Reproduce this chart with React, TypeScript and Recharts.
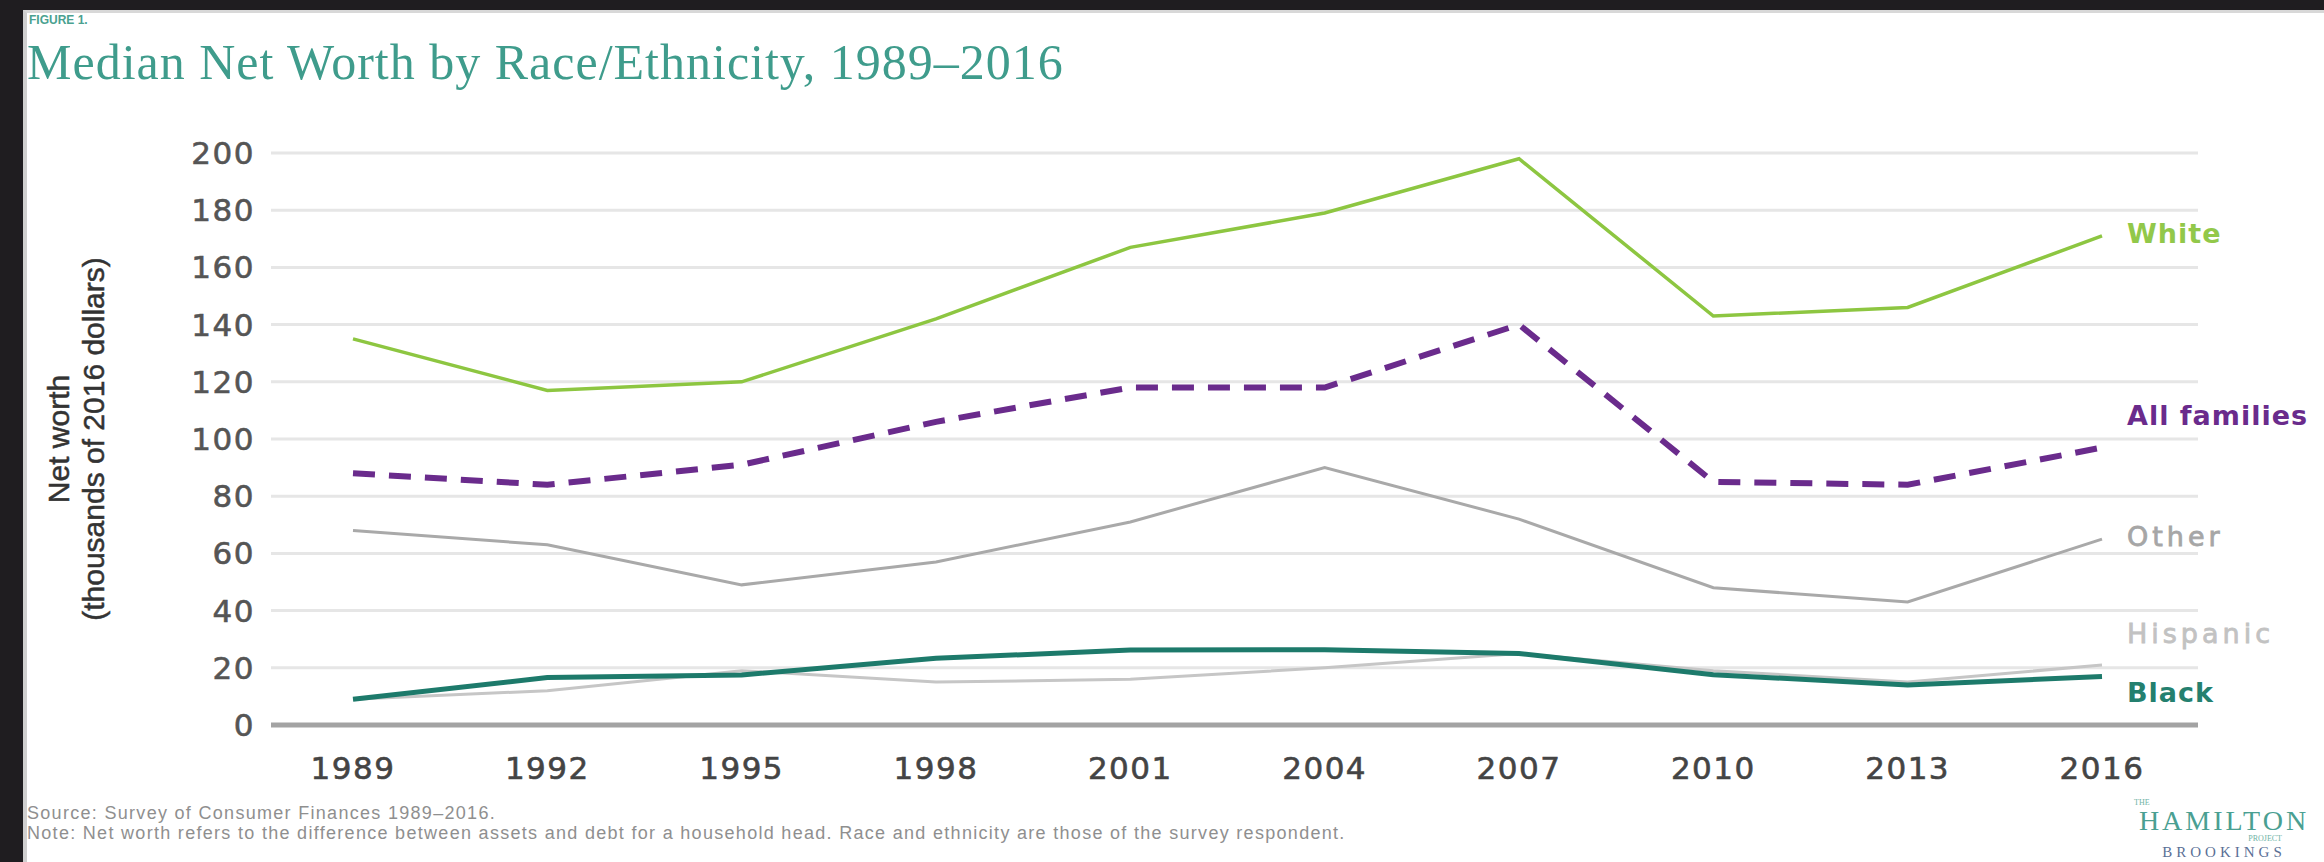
import React from "react"
import { LineChart, Line, XAxis, YAxis, CartesianGrid, ReferenceLine, Label } from "recharts"

// survey years
const years = ["1989", "1992", "1995", "1998", "2001", "2004", "2007", "2010", "2013", "2016"]

// median net worth, thousands of 2016 dollars
const white = [135, 117, 120, 142, 167, 179, 198, 143, 146, 171]
const allFamilies = [88, 84, 91, 106, 118, 118, 140, 85, 84, 97]
const other = [68, 63, 49, 57, 71, 90, 72, 48, 43, 65]
const hispanic = [9, 12, 19, 15, 16, 20, 25, 19, 15, 21]
const black = [9, 16.6, 17.5, 23.3, 26.2, 26.3, 25, 17.6, 14, 17]

const yTicks = [0, 20, 40, 60, 80, 100, 120, 140, 160, 180, 200]

const data = years.map((year, i) => ({
  year,
  white: white[i],
  allFamilies: allFamilies[i],
  other: other[i],
  hispanic: hispanic[i],
  black: black[i],
}))

const last = years.length - 1
const sans = "'DejaVu Sans', Verdana, sans-serif"

// name label drawn next to the final point of a series
function endLabel(text: string, color: string, dy: number, bold: boolean) {
  return (props: any) => {
    if (props.index !== last) return null
    return (
      <text
        x={props.x + 25}
        y={props.y + dy}
        fill={color}
        fontFamily={sans}
        fontSize={27}
        fontWeight={bold ? "bold" : "normal"}
        letterSpacing={bold ? 1 : 4}
        stroke={bold ? "none" : color}
        strokeWidth={bold ? 0 : 0.8}
        dominantBaseline="central"
      >
        {text}
      </text>
    )
  }
}

function YTitle(props: any) {
  const vb = props.viewBox
  const cy = vb.y + vb.height / 2
  return (
    <g
      fontFamily="'Liberation Sans Narrow', 'Liberation Sans', sans-serif"
      fontSize={30}
      fill="#333"
      stroke="#333"
      strokeWidth={0.5}
      textAnchor="middle"
    >
      <text x={58} y={cy} transform={`rotate(-90 58 ${cy})`} dominantBaseline="central">
        Net worth
      </text>
      <text x={93} y={cy} transform={`rotate(-90 93 ${cy})`} dominantBaseline="central">
        (thousands of 2016 dollars)
      </text>
    </g>
  )
}

export default function App() {
  return (
    <div style={{ position: "absolute", left: 0, top: 0, width: 2324, height: 862, background: "#1f1d20", overflow: "hidden" }}>
      <div
        style={{
          position: "absolute",
          left: 23,
          top: 10,
          width: 2301,
          height: 852,
          background: "#fff",
          borderLeft: "4px solid #cfcfcf",
          borderTop: "3px solid #d8d8d8",
          boxSizing: "border-box",
        }}
      />
      <div
        style={{
          position: "absolute",
          left: 29,
          top: 13,
          fontFamily: "'Liberation Sans Narrow', sans-serif",
          fontWeight: "bold",
          fontSize: 12,
          color: "#4aa190",
        }}
      >
        FIGURE 1.
      </div>
      <div
        style={{
          position: "absolute",
          left: 27,
          top: 33,
          fontFamily: "'Liberation Serif', serif",
          fontSize: 50,
          letterSpacing: 1,
          color: "#3f9c8c",
          whiteSpace: "nowrap",
        }}
      >
        Median Net Worth by Race/Ethnicity, 1989–2016
      </div>

      <LineChart
        width={2324}
        height={862}
        data={data}
        margin={{ top: 153, right: 126, bottom: 0, left: 0 }}
        style={{ position: "absolute", left: 0, top: 0 }}
      >
        <CartesianGrid horizontal vertical={false} stroke="#e6e6e6" strokeWidth={3} />
        <XAxis
          dataKey="year"
          height={137}
          padding={{ left: 82, right: 96 }}
          axisLine={false}
          tickLine={false}
          tickSize={0}
          tickMargin={32}
          tick={{ fontFamily: sans, fontSize: 31, fill: "#444", letterSpacing: 1.5, stroke: "#444", strokeWidth: 0.6 }}
          interval={0}
        />
        <YAxis
          width={271}
          domain={[0, 200]}
          ticks={yTicks}
          axisLine={false}
          tickLine={false}
          tickSize={0}
          tickMargin={16}
          tick={{ fontFamily: sans, fontSize: 31, fill: "#555", letterSpacing: 1.5, stroke: "#555", strokeWidth: 0.6 }}
        >
          <Label content={<YTitle />} />
        </YAxis>
        <ReferenceLine y={0} stroke="#a3a3a3" strokeWidth={5} />
        <Line
          dataKey="other"
          stroke="#a9a9a9"
          strokeWidth={3}
          dot={false}
          isAnimationActive={false}
          label={endLabel("Other", "#a6a6a6", -3, false)}
        />
        <Line
          dataKey="hispanic"
          stroke="#c6c6c6"
          strokeWidth={3}
          dot={false}
          isAnimationActive={false}
          label={endLabel("Hispanic", "#c2c2c2", -31, false)}
        />
        <Line
          dataKey="black"
          stroke="#1d7a6b"
          strokeWidth={5}
          dot={false}
          isAnimationActive={false}
          label={endLabel("Black", "#24806f", 16, true)}
        />
        <Line
          dataKey="allFamilies"
          stroke="#6a2b8c"
          strokeWidth={6}
          strokeDasharray="22 14"
          dot={false}
          isAnimationActive={false}
          label={endLabel("All families", "#6a2b8c", -32, true)}
        />
        <Line
          dataKey="white"
          stroke="#8dc641"
          strokeWidth={3.5}
          dot={false}
          isAnimationActive={false}
          label={endLabel("White", "#92c84a", -2, true)}
        />
      </LineChart>

      <div
        style={{
          position: "absolute",
          left: 27,
          top: 803,
          fontFamily: "'Liberation Sans', Arial, sans-serif",
          fontSize: 18,
          letterSpacing: 1.3,
          lineHeight: "20px",
          color: "#8f8f8f",
          whiteSpace: "nowrap",
        }}
      >
        <div>Source: Survey of Consumer Finances 1989–2016.</div>
        <div>Note: Net worth refers to the difference between assets and debt for a household head. Race and ethnicity are those of the survey respondent.</div>
      </div>

      <div style={{ position: "absolute", left: 2126, top: 798, width: 196, textAlign: "center", fontFamily: "'Liberation Serif', serif" }}>
        <div style={{ fontSize: 8, color: "#6fb3a6", lineHeight: "9px", textAlign: "left", paddingLeft: 8 }}>THE</div>
        <div style={{ fontSize: 28, color: "#4a9f92", letterSpacing: 3, lineHeight: "27px" }}>HAMILTON</div>
        <div style={{ fontSize: 8, color: "#6fb3a6", lineHeight: "9px", textAlign: "right", paddingRight: 40 }}>PROJECT</div>
        <div style={{ fontSize: 15, color: "#5a6f96", letterSpacing: 4, lineHeight: "18px" }}>BROOKINGS</div>
      </div>
    </div>
  )
}
